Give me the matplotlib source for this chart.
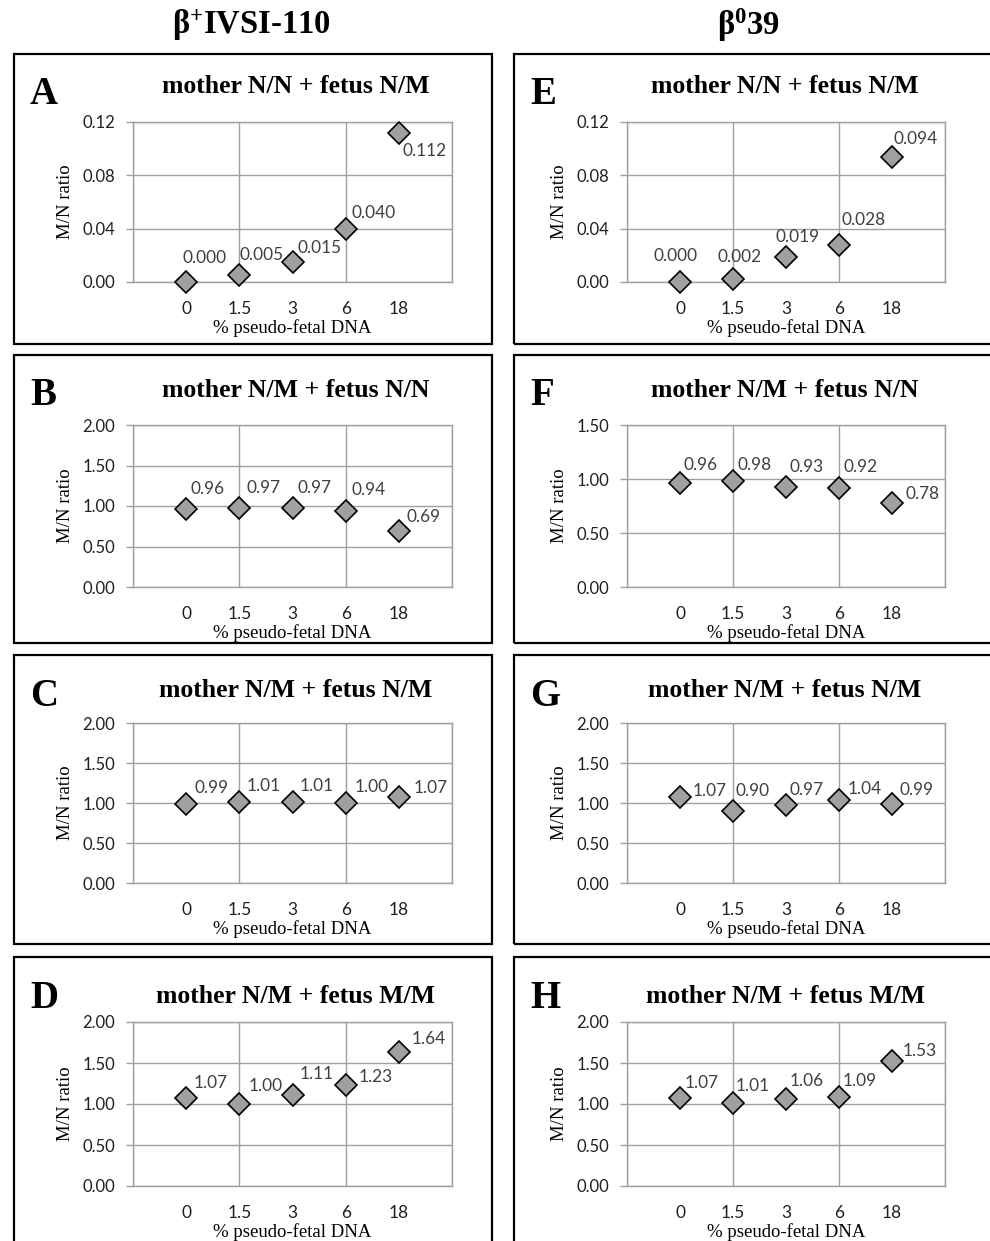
import numpy as np
import matplotlib
matplotlib.use("Agg")
import matplotlib.pyplot as plt
from matplotlib.patches import Rectangle

# fonts: Times-like for titles, Calibri-like for numbers
plt.rcParams['mathtext.fontset'] = 'custom'
plt.rcParams['mathtext.rm'] = 'Liberation Serif'
plt.rcParams['mathtext.bf'] = 'Liberation Serif:bold'

# data
pct_labels = ["0", "1.5", "3", "6", "18"]
col_titles = [r"β$\mathbf{^{+}}$IVSI-110", r"β$\mathbf{^{0}}$39"]
panel_letters = ["A", "B", "C", "D", "E", "F", "G", "H"]
panel_titles = ["mother N/N + fetus N/M", "mother N/M + fetus N/N",
                "mother N/M + fetus N/M", "mother N/M + fetus M/M",
                "mother N/N + fetus N/M", "mother N/M + fetus N/N",
                "mother N/M + fetus N/M", "mother N/M + fetus M/M"]

ratio_A = [0.000, 0.005, 0.015, 0.040, 0.112]
ratio_B = [0.96, 0.97, 0.97, 0.94, 0.69]
ratio_C = [0.99, 1.01, 1.01, 1.00, 1.07]
ratio_D = [1.07, 1.00, 1.11, 1.23, 1.64]
ratio_E = [0.000, 0.002, 0.019, 0.028, 0.094]
ratio_F = [0.96, 0.98, 0.93, 0.92, 0.78]
ratio_G = [1.07, 0.90, 0.97, 1.04, 0.99]
ratio_H = [1.07, 1.01, 1.06, 1.09, 1.53]
ratios = [ratio_A, ratio_B, ratio_C, ratio_D, ratio_E, ratio_F, ratio_G, ratio_H]

y_max = [0.12, 2.0, 2.0, 2.0, 0.12, 1.5, 2.0, 2.0]
y_step = [0.04, 0.5, 0.5, 0.5, 0.04, 0.5, 0.5, 0.5]
label_fmt = ["{:.3f}", "{:.2f}", "{:.2f}", "{:.2f}", "{:.3f}", "{:.2f}", "{:.2f}", "{:.2f}"]

# where each value label sits relative to its marker (pixels, x right / y down)
label_offsets = [
    [(-4, -24), (0, -20), (5, -14), (6, -16), (4, 18)],
    [(4, -20), (7, -20), (5, -20), (6, -21), (8, -14)],
    [(8, -16), (7, -16), (7, -16), (9, -16), (15, -9)],
    [(7, -15), (9, -18), (7, -21), (13, -8), (13, -13)],
    [(-27, -26), (-15, -22), (-11, -20), (3, -25), (1, -18)],
    [(3, -18), (4, -16), (4, -20), (4, -21), (13, -9)],
    [(13, -6), (3, -20), (4, -15), (9, -11), (8, -14)],
    [(5, -15), (3, -17), (4, -18), (4, -16), (11, -10)],
]

W, H = 990, 1241
fig = plt.figure(figsize=(W / 100, H / 100), dpi=100)

serif = 'Liberation Serif'
sans = 'Lato'
grid_c = '#a0a0a0'

# layout in pixels
plot_x = [(133, 452), (627, 945)]
plot_y = [(122, 282), (425, 587), (723, 883), (1022, 1186)]
box_x = [(14, 492), (514, 1000)]
box_y = [(54, 344), (355, 643), (655, 944), (957, 1250)]
letter_base = [104, 405, 706, 1008]
title_base = [93, 397, 697, 1003]
title_cx = [296, 785]
col_title_x = [251, 749]

for col in range(2):
    fig.text(col_title_x[col] / W, 1 - 25 / H, col_titles[col], family=serif,
             fontweight='bold', fontsize=23.5, ha='center', va='center')
    for row in range(4):
        i = col * 4 + row
        bx0, bx1 = box_x[col]
        by0, by1 = box_y[row]
        fig.patches.append(Rectangle((bx0 / W, 1 - by1 / H), (bx1 - bx0) / W, (by1 - by0) / H,
                                     transform=fig.transFigure, fill=False,
                                     edgecolor='black', linewidth=1.6))
        fig.text((bx0 + 16) / W, 1 - letter_base[row] / H, panel_letters[i], family=serif,
                 fontweight='bold', fontsize=28, ha='left', va='baseline')
        fig.text(title_cx[col] / W, 1 - title_base[row] / H, panel_titles[i], family=serif,
                 fontweight='bold', fontsize=18.5, ha='center', va='baseline')

        px0, px1 = plot_x[col]
        py0, py1 = plot_y[row]
        ax = fig.add_axes([px0 / W, 1 - py1 / H, (px1 - px0) / W, (py1 - py0) / H])
        x = np.arange(1, len(pct_labels) + 1)
        vals = ratios[i]
        ax.plot(x, vals, linestyle='none', marker='D', markersize=11,
                markerfacecolor='#a0a0a0', markeredgecolor='black',
                markeredgewidth=1.2, zorder=3, clip_on=False)
        for xi, v, (dx, dy) in zip(x, vals, label_offsets[i]):
            ax.annotate(label_fmt[i].format(v), (xi, v), xytext=(dx, -dy),
                        textcoords='offset pixels', ha='left', va='center',
                        family=sans, fontsize=12.4, color='#404040', zorder=4)

        ax.set_xlim(0, 6)
        ax.set_ylim(0, y_max[i])
        yt = np.arange(0, y_max[i] + y_step[i] / 2, y_step[i])
        ax.set_yticks(yt)
        ax.set_yticklabels(["{:.2f}".format(t) for t in yt])
        # major ticks carry the vertical gridlines, minor ticks carry the category labels
        ax.xaxis.remove_overlapping_locs = False
        ax.set_xticks([0, 2, 4, 6])
        ax.set_xticklabels([])
        ax.set_xticks(x, minor=True)
        ax.set_xticklabels(pct_labels, minor=True)
        ax.tick_params(axis='x', which='both', length=0)
        ax.tick_params(axis='x', which='minor', pad=13.5, labelsize=12.5, labelcolor='#202020')
        ax.tick_params(axis='y', length=5, width=1, color=grid_c, pad=8,
                       labelsize=12, labelcolor='#202020')
        for lab in ax.get_xticklabels(minor=True) + ax.get_yticklabels():
            lab.set_family(sans)
        ax.grid(True, which='major', color=grid_c, linewidth=1)
        ax.set_axisbelow(True)
        for sp in ax.spines.values():
            sp.set_color(grid_c)
            sp.set_linewidth(1)
        ax.set_ylabel("M/N ratio", family=serif, fontsize=13.5, labelpad=6)
        ax.set_xlabel("% pseudo-fetal DNA", family=serif, fontsize=13.5, labelpad=1.5)

fig.savefig("out.png", dpi=100)
